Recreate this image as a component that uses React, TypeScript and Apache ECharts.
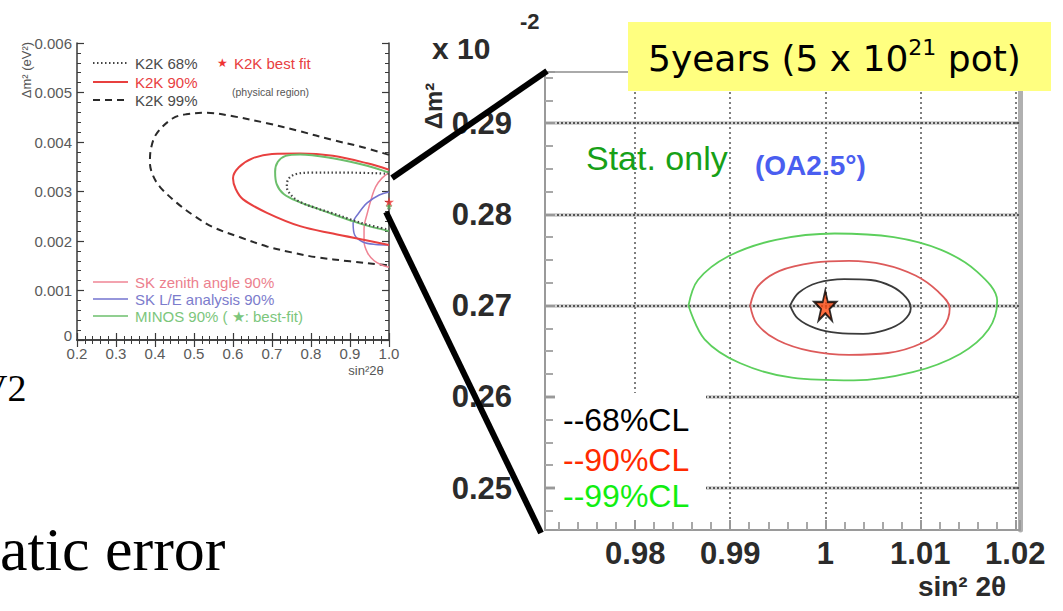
import React, { useEffect, useRef } from 'react';
import * as echarts from 'echarts';

// ---- Left panel: K2K / SK / MINOS allowed regions (sin^2 2θ, Δm^2 in eV^2) ----
const leftXTicks = [0.2, 1.0];
const leftYTicks = [0, 0.006];

const k2k68 = [
  [1.0, 0.00336], [0.9, 0.00338], [0.8, 0.00338], [0.76, 0.00335], [0.742, 0.00325],
  [0.738, 0.00309], [0.75, 0.00292], [0.772, 0.00279], [0.815, 0.00266], [0.856, 0.00256],
  [0.9, 0.00244], [0.944, 0.00233], [1.0, 0.00223],
];
const k2k90 = [
  [1.0, 0.00344], [0.944, 0.00357], [0.856, 0.00372], [0.772, 0.00377], [0.7, 0.00376],
  [0.65, 0.00367], [0.615, 0.00349], [0.6, 0.00327], [0.607, 0.00305], [0.626, 0.00284],
  [0.687, 0.00257], [0.772, 0.0023], [0.856, 0.00215], [0.944, 0.00201], [1.0, 0.00192],
];
const k2k99 = [
  [1.0, 0.00374], [0.93, 0.0039], [0.856, 0.00404], [0.77, 0.00422], [0.687, 0.00438],
  [0.6, 0.00452], [0.533, 0.00459], [0.48, 0.00456], [0.446, 0.00448], [0.405, 0.00418],
  [0.39, 0.00388], [0.387, 0.00358], [0.395, 0.00332], [0.413, 0.00309], [0.456, 0.00277],
  [0.5, 0.00251], [0.549, 0.00228], [0.62, 0.00207], [0.687, 0.00189], [0.75, 0.00177],
  [0.815, 0.00167], [0.9, 0.00159], [0.985, 0.00152], [1.0, 0.00151],
];
const minos90 = [
  [1.0, 0.00338], [0.944, 0.00352], [0.856, 0.00367], [0.772, 0.00375], [0.735, 0.00372],
  [0.715, 0.0036], [0.708, 0.0034], [0.712, 0.00315], [0.73, 0.00295], [0.772, 0.00278],
  [0.815, 0.00266], [0.856, 0.00254], [0.9, 0.00242], [0.944, 0.00231], [1.0, 0.0022],
];
const skZenith90 = [
  [1.0, 0.00338], [0.982, 0.00327], [0.966, 0.0031], [0.956, 0.00289], [0.945, 0.00258],
  [0.936, 0.00225], [0.936, 0.002], [0.945, 0.00176], [0.962, 0.0016], [0.98, 0.00152],
  [1.0, 0.00147],
];
const skLE90 = [
  [1.0, 0.00299], [0.975, 0.00293], [0.944, 0.00277], [0.922, 0.00256], [0.908, 0.00236],
  [0.912, 0.00212], [0.933, 0.00198], [0.965, 0.00193], [1.0, 0.00192],
];
const k2kBestFit = [[1.0, 0.00279]];
const minosBestFit = [[1.0, 0.0027]];

// ---- Right panel: 5-year sensitivity, stat. only (OA2.5°) ----
const rightXRange = [0.9705, 1.0205];
const rightYRange = [0.2454, 0.2956];

const cl68 = [
  [0.9963, 0.27], [0.9972, 0.2714], [0.9992, 0.2725], [1.002, 0.2729], [1.0048, 0.2728],
  [1.007, 0.2721], [1.0085, 0.2709], [1.009, 0.2697], [1.0082, 0.2683], [1.0063, 0.2673],
  [1.004, 0.2669], [1.0013, 0.267], [0.999, 0.2675], [0.9971, 0.2686], [0.9963, 0.27],
];
const cl90 = [
  [0.9921, 0.27], [0.9929, 0.2721], [0.9952, 0.2738], [0.9988, 0.2747], [1.0025, 0.2749],
  [1.0062, 0.2745], [1.0095, 0.2733], [1.0118, 0.2716], [1.0131, 0.2697], [1.0124, 0.2676],
  [1.0102, 0.2659], [1.0066, 0.2648], [1.0025, 0.2646], [0.9985, 0.265], [0.995, 0.2662],
  [0.9928, 0.268], [0.9921, 0.27],
];
const cl99 = [
  [0.9856, 0.27], [0.9866, 0.2728], [0.9898, 0.2754], [0.9948, 0.2772], [1.001, 0.2779],
  [1.0072, 0.2775], [1.0122, 0.2761], [1.016, 0.2737], [1.0181, 0.2705], [1.0172, 0.2674],
  [1.0142, 0.2647], [1.0092, 0.2627], [1.003, 0.2618], [0.9965, 0.2621], [0.991, 0.2637],
  [0.9873, 0.2663], [0.9856, 0.27],
];
const trueValue = [[1.0, 0.27]];

const legendLeftTop = ['K2K 68%', 'K2K 90%', 'K2K 99%'];
const legendLeftBottom = ['SK zenith angle 90%', 'SK L/E analysis 90%', 'MINOS 90% ( \u2605: best-fit)'];
const clLabels = ['--68%CL', '--90%CL', '--99%CL'];

const STAR =
  'path://M50,0L61.2,34.5L97.6,34.5L68.2,55.9L79.4,90.5L50,69.1L20.6,90.5L31.8,55.9L2.4,34.5L38.8,34.5Z';

const SANS = 'Liberation Sans';

function contour(name: string, data: number[][], axis: number, color: string, width: number, type: any, z = 3) {
  return {
    type: 'line',
    name,
    data,
    xAxisIndex: axis,
    yAxisIndex: axis,
    smooth: 0.35,
    showSymbol: false,
    symbol: 'none',
    silent: true,
    z,
    lineStyle: { color, width, type },
  };
}

const roundLabel = (v: number) =>
  Math.abs(v * 100 - Math.round(v * 100)) < 1e-6 ? String(parseFloat(v.toFixed(2))) : '';

const leftFrame = {
  axisLine: { show: true, lineStyle: { color: '#3a3a3a', width: 1.5 } },
  axisTick: { show: true, inside: true, length: 7, lineStyle: { color: '#3a3a3a', width: 1.2 } },
  minorTick: { show: true, splitNumber: 5, length: 4, lineStyle: { color: '#3a3a3a', width: 1 } },
  splitLine: { show: false },
};

export default function App() {
  const ref = useRef<HTMLDivElement>(null);

  useEffect(() => {
    const chart = echarts.init(ref.current!, null, { renderer: 'svg' });

    const option: any = {
      animation: false,
      backgroundColor: '#ffffff',
      grid: [
        { left: 77, top: 43, width: 312, height: 297 },
        { left: 545, top: 72, width: 475, height: 458 },
      ],
      xAxis: [
        {
          type: 'value', gridIndex: 0, min: leftXTicks[0], max: leftXTicks[1], interval: 0.1,
          ...leftFrame,
          axisLabel: {
            color: '#5a5a5a', fontSize: 15, fontFamily: SANS, margin: 6,
            formatter: (v: number) => v.toFixed(1),
          },
        },
        {
          type: 'value', gridIndex: 0, position: 'top', min: leftXTicks[0], max: leftXTicks[1], interval: 0.1,
          ...leftFrame, axisLabel: { show: false },
        },
        {
          type: 'value', gridIndex: 1, min: rightXRange[0], max: rightXRange[1], splitNumber: 5, z: 1,
          axisLine: { show: true, lineStyle: { color: '#9a9a9a', width: 2 } },
          axisTick: { show: true, inside: true, length: 10, lineStyle: { color: '#999', width: 2 } },
          minorTick: { show: true, splitNumber: 5, length: 8, lineStyle: { color: '#a8a8a8', width: 2 } },
          axisLabel: {
            fontSize: 31, fontWeight: 'bold', color: '#2b2b2b', fontFamily: SANS, margin: 8,
            formatter: roundLabel,
          },
          splitLine: {
            show: true, showMinLine: false, showMaxLine: false,
            lineStyle: { color: '#555', type: [2, 3], width: 1.5 },
          },
        },
        {
          type: 'value', gridIndex: 1, position: 'top', min: rightXRange[0], max: rightXRange[1],
          axisLine: { show: true, lineStyle: { color: '#aaa', width: 2 } },
          axisTick: { show: false }, axisLabel: { show: false }, splitLine: { show: false },
        },
      ],
      yAxis: [
        {
          type: 'value', gridIndex: 0, min: leftYTicks[0], max: leftYTicks[1], interval: 0.001,
          ...leftFrame,
          axisLabel: {
            color: '#5a5a5a', fontSize: 15, fontFamily: SANS, margin: 5,
            formatter: (v: number) => (v === 0 ? '{z|0}' : v.toFixed(3)),
            rich: { z: { fontSize: 15, fontFamily: SANS, color: '#5a5a5a', padding: [0, 0, 10, 0] } },
          },
        },
        {
          type: 'value', gridIndex: 0, position: 'right', min: leftYTicks[0], max: leftYTicks[1], interval: 0.001,
          ...leftFrame, axisLabel: { show: false },
        },
        {
          type: 'value', gridIndex: 1, min: rightYRange[0], max: rightYRange[1], splitNumber: 5, z: 2,
          axisLine: { show: true, lineStyle: { color: '#9a9a9a', width: 2 } },
          axisTick: { show: true, inside: true, length: 10, lineStyle: { color: '#999', width: 2 } },
          minorTick: { show: true, splitNumber: 4, length: 8, lineStyle: { color: '#a8a8a8', width: 2 } },
          axisLabel: {
            fontSize: 31, fontWeight: 'bold', color: '#2b2b2b', fontFamily: SANS, margin: 33,
            formatter: roundLabel,
          },
          splitLine: {
            show: true, showMinLine: false, showMaxLine: false,
            lineStyle: { color: '#555', type: [2, 2], width: 2 },
          },
        },
        {
          type: 'value', gridIndex: 1, position: 'right', min: rightYRange[0], max: rightYRange[1],
          axisLine: { show: true, lineStyle: { color: '#b0b0b0', width: 5 } },
          axisTick: { show: false }, axisLabel: { show: false }, splitLine: { show: false },
        },
        {
          // soft solid band under the dotted horizontal grid lines
          type: 'value', gridIndex: 1, min: rightYRange[0], max: rightYRange[1], splitNumber: 5, z: 0,
          axisLine: { show: false }, axisTick: { show: false }, axisLabel: { show: false },
          splitLine: {
            show: true, showMinLine: false, showMaxLine: false,
            lineStyle: { color: '#d2d2d2', width: 4 },
          },
        },
      ],
      series: [
        contour('K2K 99%', k2k99, 0, '#2a2a2a', 2, [7, 5]),
        contour('SK zenith angle 90%', skZenith90, 0, '#ef8494', 1.5, 'solid'),
        contour('SK L/E analysis 90%', skLE90, 0, '#7373cf', 1.5, 'solid'),
        contour('K2K 90%', k2k90, 0, '#e8403f', 2, 'solid'),
        contour('MINOS 90%', minos90, 0, '#6cbf6c', 2, 'solid'),
        contour('K2K 68%', k2k68, 0, '#444444', 2.2, [1.5, 2.5]),
        {
          type: 'scatter', name: 'K2K best fit', data: k2kBestFit, xAxisIndex: 0, yAxisIndex: 0,
          symbol: STAR, symbolSize: 10, itemStyle: { color: '#ee3333' }, z: 5, silent: true,
        },
        {
          type: 'scatter', name: 'MINOS best fit', data: minosBestFit, xAxisIndex: 0, yAxisIndex: 0,
          symbol: STAR, symbolSize: 7, itemStyle: { color: '#55aa55' }, z: 5, silent: true,
        },
        contour('99%CL', cl99, 2, '#5ccf5c', 1.8, 'solid'),
        contour('90%CL', cl90, 2, '#dd5a5a', 1.8, 'solid'),
        contour('68%CL', cl68, 2, '#3a3a3a', 1.8, 'solid'),
        {
          type: 'scatter', name: 'true value', data: trueValue, xAxisIndex: 2, yAxisIndex: 2,
          symbol: STAR, symbolSize: [22, 30], z: 6, silent: true,
          itemStyle: { color: '#ff4a10', borderColor: '#000', borderWidth: 2 },
        },
      ],
      graphic: [
        // left panel legends
        { type: 'line', z: 50, shape: { x1: 93, y1: 63, x2: 128, y2: 63 }, style: { stroke: '#444', lineWidth: 2, lineDash: [1.5, 2.5] } },
        { type: 'line', z: 50, shape: { x1: 93, y1: 82, x2: 128, y2: 82 }, style: { stroke: '#e8403f', lineWidth: 2 } },
        { type: 'line', z: 50, shape: { x1: 93, y1: 100, x2: 128, y2: 100 }, style: { stroke: '#2a2a2a', lineWidth: 2, lineDash: [7, 5] } },
        ...legendLeftTop.map((t, i) => ({
          type: 'text', z: 50, x: 135, y: [63, 82, 100][i],
          style: { text: t, fontSize: 15, fontFamily: SANS, fill: i === 1 ? '#e8403f' : '#4a4a4a', verticalAlign: 'middle' },
        })),
        { type: 'text', z: 50, x: 222, y: 63, style: { text: '\u2605', fontSize: 12, fill: '#ee3333', align: 'center', verticalAlign: 'middle' } },
        { type: 'text', z: 50, x: 234, y: 63, style: { text: 'K2K best fit', fontSize: 15, fontFamily: SANS, fill: '#e8403f', verticalAlign: 'middle' } },
        { type: 'text', z: 50, x: 232, y: 92, style: { text: '(physical region)', fontSize: 10.5, fontFamily: SANS, fill: '#555', verticalAlign: 'middle' } },
        ...['#ef8494', '#7373cf', '#6cbf6c'].map((c, i) => ({
          type: 'line', z: 50, shape: { x1: 93, y1: 282 + i * 17, x2: 128, y2: 282 + i * 17 }, style: { stroke: c, lineWidth: 1.5 },
        })),
        ...legendLeftBottom.map((t, i) => ({
          type: 'text', z: 50, x: 135, y: 282 + i * 17,
          style: { text: t, fontSize: 15, fontFamily: SANS, fill: ['#ec7f8e', '#7c7ccc', '#7cc67c'][i], verticalAlign: 'middle' },
        })),
        { type: 'text', z: 50, x: 26, y: 70, rotation: Math.PI / 2, style: { text: '\u0394m\u00b2 (eV\u00b2)', fontSize: 13, fontFamily: SANS, fill: '#555', align: 'center', verticalAlign: 'middle' } },
        { type: 'text', z: 50, x: 366, y: 370, style: { text: 'sin\u00b22\u03b8', fontSize: 13, fontFamily: SANS, fill: '#555', align: 'center', verticalAlign: 'middle' } },

        // right panel axis titles
        { type: 'text', z: 50, x: 432, y: 48, style: { text: 'x 10', fontSize: 30, fontWeight: 'bold', fontFamily: SANS, fill: '#2b2b2b', verticalAlign: 'middle' } },
        { type: 'text', z: 50, x: 520, y: 21, style: { text: '-2', fontSize: 22, fontWeight: 'bold', fontFamily: SANS, fill: '#2b2b2b', verticalAlign: 'middle' } },
        { type: 'text', z: 50, x: 433, y: 106, rotation: Math.PI / 2, style: { text: '\u0394m\u00b2', fontSize: 24, fontWeight: 'bold', fontFamily: SANS, fill: '#2b2b2b', align: 'center', verticalAlign: 'middle' } },
        { type: 'text', z: 50, x: 962, y: 586, style: { text: 'sin\u00b2 2\u03b8', fontSize: 28, fontWeight: 'bold', fontFamily: SANS, fill: '#2b2b2b', align: 'center', verticalAlign: 'middle' } },

        // exposure box
        { type: 'rect', z: 60, shape: { x: 628, y: 22, width: 423, height: 69 }, style: { fill: '#ffff80' } },
        {
          type: 'text', z: 61, x: 648, y: 58,
          style: {
            text: '{a|5years (5 x 10}{s|21}{a| pot)}', verticalAlign: 'middle',
            rich: {
              a: { fontSize: 36, fontFamily: 'DejaVu Sans', fill: '#000', lineHeight: 44 },
              s: { fontSize: 22, fontFamily: 'DejaVu Sans', fill: '#000', lineHeight: 24, verticalAlign: 'top' },
            },
          },
        },
        { type: 'text', z: 50, x: 586, y: 158, style: { text: 'Stat. only', fontSize: 34, fontFamily: SANS, fill: '#17a017', verticalAlign: 'middle' } },
        { type: 'text', z: 50, x: 755, y: 165, style: { text: '(OA2.5\u00b0)', fontSize: 28, fontWeight: 'bold', fontFamily: SANS, fill: '#4a5ef0', verticalAlign: 'middle' } },

        // CL legend
        { type: 'rect', z: 60, shape: { x: 555, y: 393, width: 151, height: 127 }, style: { fill: '#ffffff' } },
        ...clLabels.map((t, i) => ({
          type: 'text', z: 61, x: 563, y: [420, 460, 496][i],
          style: { text: t, fontSize: 32, fontFamily: SANS, fill: ['#000000', '#ff2a00', '#11ee11'][i], verticalAlign: 'middle' },
        })),

        // zoom callout lines
        { type: 'line', z: 90, shape: { x1: 392, y1: 178, x2: 547, y2: 71 }, style: { stroke: '#000', lineWidth: 6 } },
        { type: 'line', z: 90, shape: { x1: 386, y1: 212, x2: 541, y2: 533 }, style: { stroke: '#000', lineWidth: 6 } },

        // slide text fragments
        { type: 'text', z: 50, x: -20, y: 388, style: { text: 'V2', fontSize: 38, fontFamily: 'Liberation Serif', fill: '#000', verticalAlign: 'middle' } },
        { type: 'text', z: 50, x: 0, y: 549, style: { text: 'atic error', fontSize: 62, fontFamily: 'Liberation Serif', fill: '#000', verticalAlign: 'middle' } },
      ],
    };

    chart.setOption(option);
    return () => chart.dispose();
  }, []);

  return (
    <div
      ref={ref}
      style={{ position: 'absolute', left: 0, top: 0, width: 1063, height: 611, background: '#fff' }}
    />
  );
}
